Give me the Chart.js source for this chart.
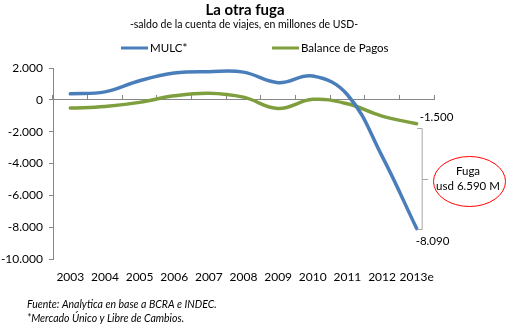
<!DOCTYPE html>
<html>
<head>
<meta charset="utf-8">
<script src="https://cdn.jsdelivr.net/npm/chart.js@4"></script>
<style>
  html, body { margin: 0; padding: 0; background: #fff; }
  canvas { display: block; }
</style>
</head>
<body>
<canvas id="graficoFuga" width="508" height="328"></canvas>
<script>
// datos (millones de USD)
const anios = ["2003", "2004", "2005", "2006", "2007", "2008", "2009", "2010", "2011", "2012", "2013e"];
const mulc = [380, 500, 1200, 1680, 1770, 1740, 1080, 1500, 320, -3540, -8090];
const balancePagos = [-520, -420, -160, 250, 420, 170, -540, 30, -250, -1020, -1500];
const ticksY = [2000, 0, -2000, -4000, -6000, -8000, -10000];

const fuente = "Lato, 'Liberation Sans', sans-serif";
const gris = "#868686";

function formatear(v){
    let s = String(Math.abs(v)).replace(/\B(?=(\d{3})+(?!\d))/g, ".");
    return (v < 0 ? "-" : "") + s;
}

const textos = {
    id: "textos",
    afterDraw(chart){
        const ctx = chart.ctx;
        const x = chart.scales.x;
        const y = chart.scales.y;
        const n = anios.length - 1;

        ctx.save();
        ctx.fillStyle = "#000";
        ctx.textBaseline = "middle";

        // titulo
        ctx.textAlign = "center";
        ctx.font = "bold 15px " + fuente;
        ctx.fillText("La otra fuga", 245, 10);
        ctx.font = "10.5px " + fuente;
        ctx.fillText("-saldo de la cuenta de viajes, en millones de USD-", 244, 25);

        // leyenda
        let series = chart.data.datasets;
        let posLeyenda = [121, 272];
        ctx.textAlign = "left";
        ctx.font = "11.5px " + fuente;
        for(let i = 0; i < series.length; i++){
            ctx.strokeStyle = series[i].borderColor;
            ctx.lineWidth = 3;
            ctx.beginPath();
            ctx.moveTo(posLeyenda[i], 48);
            ctx.lineTo(posLeyenda[i] + 27, 48);
            ctx.stroke();
            ctx.fillText(series[i].label, posLeyenda[i] + 29, 48);
        }

        // notas al final de las series
        const px = x.getPixelForValue(n);
        const yVerde = y.getPixelForValue(balancePagos[n]);
        const yAzul = y.getPixelForValue(mulc[n]);

        ctx.font = "11.5px " + fuente;
        ctx.fillText(formatear(balancePagos[n]), px + 3, yVerde - 6);
        ctx.fillText(formatear(mulc[n]), px - 1, yAzul + 13);

        const bx = px + 5.5;
        const arriba = Math.round(yVerde + 4) + 0.5;
        const abajo = Math.round(yAzul) + 0.5;
        const medio = Math.round((arriba + abajo) / 2) + 0.5;
        ctx.strokeStyle = "#a6a6a6";
        ctx.lineWidth = 1;
        ctx.beginPath();
        ctx.moveTo(bx - 5, arriba);
        ctx.lineTo(bx, arriba);
        ctx.lineTo(bx, abajo);
        ctx.lineTo(bx - 5, abajo);
        ctx.moveTo(bx, medio);
        ctx.lineTo(bx + 6, medio);
        ctx.stroke();

        // elipse con la diferencia
        ctx.strokeStyle = "#ff0000";
        ctx.beginPath();
        ctx.ellipse(469.5, 181.5, 36, 25, 0, 0, Math.PI * 2);
        ctx.stroke();
        ctx.textAlign = "center";
        ctx.fillText("Fuga", 468, 171);
        ctx.fillText("usd " + formatear(balancePagos[n] - mulc[n]) + " M", 468, 186);

        // pie
        ctx.textAlign = "left";
        ctx.font = "italic 10.5px " + fuente;
        ctx.fillText("Fuente: Analytica en base a BCRA e INDEC.", 27, 305);
        ctx.fillText("*Mercado \u00danico y Libre de Cambios.", 27, 319);

        ctx.restore();
    }
};

new Chart(document.getElementById("graficoFuga"), {
    type: "line",
    data: {
        labels: anios,
        datasets: [
            {
                label: "MULC*",
                data: mulc,
                borderColor: "#4a7ebb",
                backgroundColor: "#4a7ebb"
            },
            {
                label: "Balance de Pagos",
                data: balancePagos,
                borderColor: "#7f9f3f",
                backgroundColor: "#7f9f3f"
            }
        ]
    },
    options: {
        responsive: false,
        animation: false,
        layout: { padding: { top: 68, right: 74, bottom: 0, left: 0 } },
        elements: {
            point: { radius: 0 },
            line: { borderWidth: 3.5, tension: 0.4, borderCapStyle: "round" }
        },
        plugins: {
            legend: { display: false },
            title: { display: false },
            tooltip: { enabled: false }
        },
        scales: {
            x: {
                offset: true,
                grid: { display: false, drawTicks: false },
                border: { display: false },
                ticks: {
                    color: "#000",
                    font: { family: fuente, size: 12 },
                    padding: 11,
                    maxRotation: 0,
                    autoSkip: false
                },
                afterFit: s => { s.height = 69; }
            },
            xCero: {
                axis: "x",
                type: "category",
                position: { y: 0 },
                offset: true,
                grid: { offset: true, drawOnChartArea: false, tickLength: -5, color: gris },
                border: { color: gris },
                ticks: { display: false }
            },
            y: {
                min: ticksY[ticksY.length - 1],
                max: ticksY[0],
                afterBuildTicks: s => { s.ticks = ticksY.map(v => ({ value: v })); },
                grid: { drawOnChartArea: false, tickLength: 4, color: gris },
                border: { color: gris },
                ticks: {
                    color: "#000",
                    font: { family: fuente, size: 12 },
                    padding: 6,
                    callback: v => formatear(v)
                },
                afterFit: s => { s.width = 53; }
            }
        }
    },
    plugins: [textos]
});
</script>
</body>
</html>
